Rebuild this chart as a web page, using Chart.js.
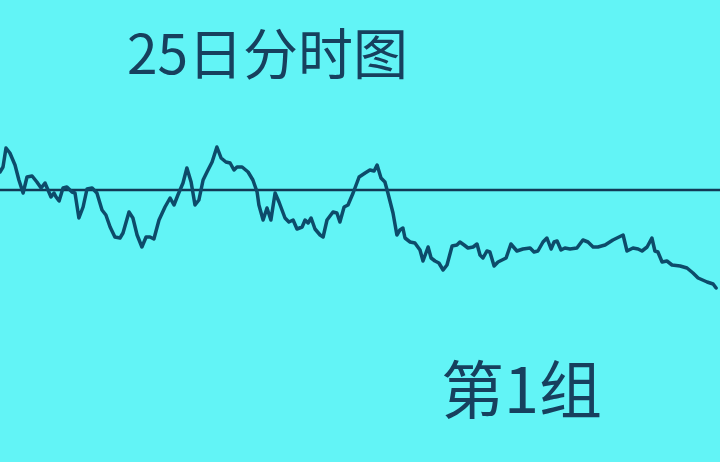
<!DOCTYPE html>
<html>
<head>
<meta charset="utf-8">
<script src="https://cdn.jsdelivr.net/npm/chart.js@4/dist/chart.umd.min.js"></script>
<style>
  html, body { margin: 0; padding: 0; background: #62f4f6; }
  #wrap { position: relative; width: 720px; height: 462px; overflow: hidden; }
  #chart { position: absolute; left: 0; top: 0; }
  .label {
    position: absolute;
    font-family: "Noto Sans CJK SC", "Noto Sans", sans-serif;
    color: #17405e;
    white-space: nowrap;
    line-height: 1;
  }
  #title { left: 127px; top: 23px; font-size: 55px; }
  #group { left: 441px; top: 354px; font-size: 63px; }
</style>
</head>
<body>
<div id="wrap">
  <canvas id="chart" width="720" height="462"></canvas>
  <div class="label" id="title">25日分时图</div>
  <div class="label" id="group">第1组</div>
</div>
<script>
// Minutes since open (0 - 240) and change vs. previous close (%)
let minutes = [0, 1, 2, 3.3, 5, 6.3, 7.7, 9, 10.7, 12.3, 13.7, 15, 16, 17, 18, 18.7, 19.7, 21, 22.3, 24, 25, 26.3, 27.7, 29, 30.7, 32.3, 34, 35.3, 36.7, 38.3,
    40, 41, 43, 44.3, 45.7, 47.3, 48.7, 50, 51.3, 53, 55, 56.7, 58, 59.3, 61, 62.3, 63.7, 65, 66.3, 67.7, 69, 70.7, 72.3, 73.7, 75.3, 76.7, 78, 79,
    80.7, 82.7, 84.3, 85.7, 86.3, 87.7, 89, 90.3, 91.7, 93, 95, 96.3, 97.7, 99, 100.7, 101.7, 102.7, 103.7, 105, 106.7, 107.7, 109, 111, 112.3, 113.3,
    114.7, 116, 117.7, 119.7, 121.7, 123.3, 124.7, 125.7, 127, 128.3, 129.3, 131, 132.3, 133.3, 134.3, 135, 136.7, 138.3, 140, 141, 142.7, 143.7,
    145, 146.3, 147.7, 149, 150.7, 152.3, 153.3, 154.7, 156, 157.7, 159, 160, 161, 162.3, 163.3, 164.7, 166, 168.7, 170.3, 172.3, 174.3, 176.7,
    178, 179.3, 181, 182.3, 183.7, 184.7, 185.7, 187, 188.3, 190, 192.3, 194.3, 196, 197.7, 199.3, 201.7, 204.3, 207.7, 209, 211, 212.7, 214,
    215.7, 217.3, 218.3, 219.3, 220.7, 222.3, 224, 226.7, 229, 231, 232.7, 235.7, 237.7, 238.7];

let changes = [0.72, 0.92, 1.68, 1.48, 1.00, 0.40, -0.12, 0.52, 0.56, 0.32, 0.08, 0.28, 0.00, -0.28, -0.12, -0.28, -0.44, 0.08, 0.12, -0.08, -0.12, -1.12, -0.68, 0.04, 0.08, -0.12, -0.80, -1.00, -1.48, -1.88,
    -1.92, -1.72, -0.88, -1.12, -1.80, -2.28, -1.88, -1.88, -1.96, -1.20, -0.68, -0.32, -0.60, -0.20, 0.28, 0.88, 0.32, -0.60, -0.40, 0.40, 0.72, 1.12, 1.72, 1.28, 1.12, 1.08, 0.80, 0.92,
    0.92, 0.72, 0.40, -0.08, -0.60, -1.20, -0.72, -1.20, -0.12, -0.48, -1.12, -1.28, -1.20, -1.56, -1.48, -1.20, -1.32, -1.12, -1.56, -1.80, -1.88, -1.20, -0.88, -0.92, -1.28,
    -0.68, -0.60, -0.12, 0.52, 0.68, 0.80, 0.76, 1.00, 0.48, 0.32, -0.12, -0.92, -1.80, -1.60, -1.52, -1.92, -2.08, -2.12, -2.40, -2.84, -2.28, -2.72,
    -2.84, -2.92, -3.20, -3.00, -2.24, -2.20, -2.08, -2.20, -2.32, -2.28, -2.16, -2.60, -2.72, -2.44, -2.48, -3.04, -2.88, -2.72, -2.16, -2.44, -2.36, -2.32,
    -2.48, -2.44, -2.08, -1.92, -2.36, -2.08, -2.04, -2.40, -2.32, -2.36, -2.32, -2.00, -2.08, -2.28, -2.28, -2.20, -2.00, -1.80, -2.44, -2.32, -2.36, -2.44,
    -2.28, -1.92, -2.44, -2.48, -2.88, -2.84, -3.00, -3.04, -3.12, -3.32, -3.52, -3.68, -3.76, -3.92];

// Previous close reference line
let baseMinutes = [0, 240];
let baseValues = [0, 0];

// Paint the cyan backdrop behind everything
const backdrop = {
    id: "backdrop",
    beforeDraw(chart) {
        let ctx = chart.ctx;
        ctx.save();
        ctx.fillStyle = "#62f4f6";
        ctx.fillRect(0, 0, chart.width, chart.height);
        ctx.restore();
    }
};

let ctx = document.getElementById("chart").getContext("2d");
new Chart(ctx, {
    type: "line",
    data: {
        datasets: [{
            label: "基准",
            data: baseMinutes.map((m, i) => ({ x: m, y: baseValues[i] })),
            borderColor: "#123a57",
            borderWidth: 2.5,
            pointRadius: 0,
            order: 2
        }, {
            label: "分时",
            data: minutes.map((m, i) => ({ x: m, y: changes[i] })),
            borderColor: "#0d4b6a",
            borderWidth: 3.5,
            pointRadius: 0,
            tension: 0,
            borderJoinStyle: "round",
            borderCapStyle: "round",
            order: 1
        }]
    },
    options: {
        responsive: false,
        animation: false,
        layout: { padding: 0 },
        plugins: {
            legend: { display: false },
            tooltip: { enabled: false }
        },
        scales: {
            x: { type: "linear", min: 0, max: 240, display: false },
            y: { min: -10.88, max: 7.6, display: false }
        }
    },
    plugins: [backdrop]
});
</script>
</body>
</html>
